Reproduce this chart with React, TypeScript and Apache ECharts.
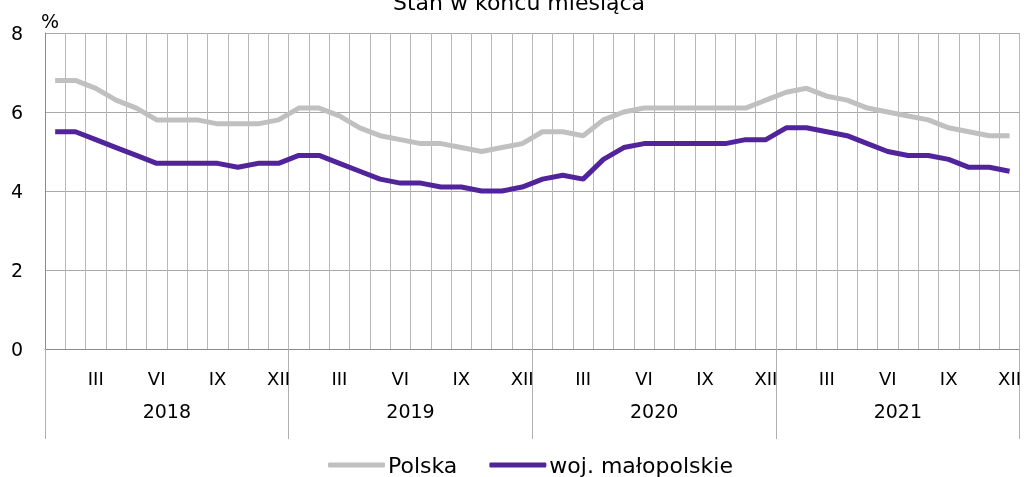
import React, { useEffect, useRef } from "react";
import * as echarts from "echarts";

const years = ["2018", "2019", "2020", "2021"];
const romanMonths = ["I", "II", "III", "IV", "V", "VI", "VII", "VIII", "IX", "X", "XI", "XII"];
const yTicks = { min: 0, max: 8, interval: 2 };

const polska = [
  6.8, 6.8, 6.6, 6.3, 6.1, 5.8, 5.8, 5.8, 5.7, 5.7, 5.7, 5.8,
  6.1, 6.1, 5.9, 5.6, 5.4, 5.3, 5.2, 5.2, 5.1, 5.0, 5.1, 5.2,
  5.5, 5.5, 5.4, 5.8, 6.0, 6.1, 6.1, 6.1, 6.1, 6.1, 6.1, 6.3,
  6.5, 6.6, 6.4, 6.3, 6.1, 6.0, 5.9, 5.8, 5.6, 5.5, 5.4, 5.4,
];
const malopolskie = [
  5.5, 5.5, 5.3, 5.1, 4.9, 4.7, 4.7, 4.7, 4.7, 4.6, 4.7, 4.7,
  4.9, 4.9, 4.7, 4.5, 4.3, 4.2, 4.2, 4.1, 4.1, 4.0, 4.0, 4.1,
  4.3, 4.4, 4.3, 4.8, 5.1, 5.2, 5.2, 5.2, 5.2, 5.2, 5.3, 5.3,
  5.6, 5.6, 5.5, 5.4, 5.2, 5.0, 4.9, 4.9, 4.8, 4.6, 4.6, 4.5,
];

const seriesNames = ["Polska", "woj. małopolskie"];
const titleText = "Stan w końcu miesiąca";

const FONT = "DejaVu Sans";

export default function App() {
  const ref = useRef<HTMLDivElement>(null);
  useEffect(() => {
    if (!ref.current) return;
    const chart = echarts.init(ref.current, null, { renderer: "svg" });
    const categories: string[] = [];
    years.forEach((y) => romanMonths.forEach((m) => categories.push(y + "-" + m)));
    chart.setOption({
      animation: false,
      textStyle: { fontFamily: FONT },
      grid: { left: 45, right: 2, top: 33, bottom: 128, containLabel: false },
      graphic: [
        {
          type: "text",
          x: 519,
          y: 13,
          style: {
            text: titleText,
            fontFamily: FONT,
            fontSize: 22,
            fill: "#000",
            align: "center",
            verticalAlign: "bottom",
          },
        },
        {
          type: "text",
          x: 41,
          y: 11,
          style: { text: "%", fontFamily: FONT, fontSize: 19, fill: "#000" },
        },
      ],
      legend: {
        bottom: -4,
        left: 323,
        itemWidth: 57,
        itemHeight: 5,
        itemGap: 32,
        icon: "roundRect",
        textStyle: { fontSize: 22, color: "#000", fontFamily: FONT, padding: [0, 0, 0, -2] },
        data: seriesNames,
      },
      xAxis: [
        {
          type: "category",
          data: categories,
          boundaryGap: true,
          axisLine: { show: true, lineStyle: { color: "#8a8a8a", width: 1 } },
          axisTick: { show: false },
          splitLine: { show: true, interval: 0, lineStyle: { color: "#b8b8b8", width: 1 } },
          axisLabel: {
            interval: (i: number) => i % 3 === 2,
            formatter: (v: string) => v.split("-")[1],
            fontSize: 18,
            color: "#000",
            margin: 20,
            fontFamily: FONT,
          },
        },
        {
          type: "category",
          data: years,
          position: "bottom",
          boundaryGap: true,
          axisLine: { show: false },
          axisTick: { show: true, interval: 0, length: 90, lineStyle: { color: "#b0b0b0" } },
          splitLine: { show: false },
          axisLabel: { fontSize: 19, color: "#000", margin: 52, fontFamily: FONT },
        },
      ],
      yAxis: {
        type: "value",
        min: yTicks.min,
        max: yTicks.max,
        interval: yTicks.interval,
        axisLine: { show: true, lineStyle: { color: "#8a8a8a" } },
        axisTick: { show: false },
        splitLine: { show: true, lineStyle: { color: "#a8a8a8" } },
        axisLabel: { fontSize: 19, color: "#000", margin: 22, fontFamily: FONT },
      },
      series: [
        {
          name: seriesNames[0],
          type: "line",
          data: polska,
          xAxisIndex: 0,
          symbol: "none",
          lineStyle: { color: "#c0c0c0", width: 5 },
          itemStyle: { color: "#c0c0c0" },
        },
        {
          name: seriesNames[1],
          type: "line",
          data: malopolskie,
          xAxisIndex: 0,
          symbol: "none",
          lineStyle: { color: "#51249b", width: 5 },
          itemStyle: { color: "#51249b" },
        },
      ],
    });
    return () => chart.dispose();
  }, []);
  return (
    <div
      ref={ref}
      style={{ position: "fixed", left: 0, top: 0, width: 1024, height: 477 }}
    />
  );
}
